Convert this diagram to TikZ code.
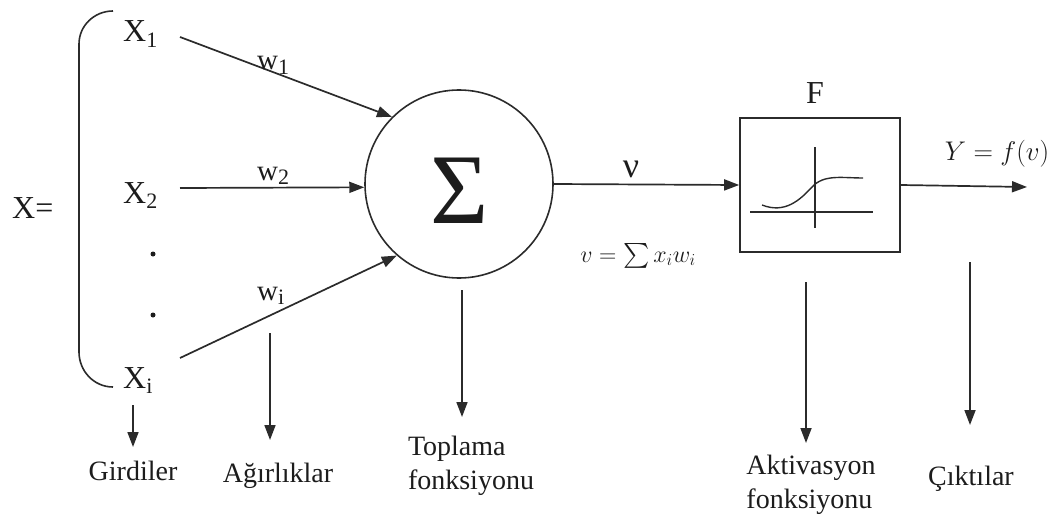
\documentclass[tikz,border=0pt]{standalone}
\usepackage{fix-cm}
\usepackage{exscale}
\usepackage{fontspec}
\setmainfont{Liberation Serif}
\usetikzlibrary{arrows.meta,positioning}
\definecolor{neuronink}{HTML}{1C1C1C}
\definecolor{neuronline}{HTML}{2B2B2B}
\tikzset{
  feed/.style={draw=neuronline,line width=1.7pt,-{Triangle[length=15pt,width=11pt]}},
  inlet/.style={font=\fontsize{32}{34}\selectfont,inner sep=0pt,anchor=base west},
  wlabel/.style={font=\fontsize{29}{30}\selectfont,inner sep=0pt,anchor=base west},
  tag/.style={font=\fontsize{28}{34}\selectfont,align=left,inner sep=0pt,anchor=north},
  mathlbl/.style={font=\fontsize{27}{30}\selectfont,inner sep=0pt,anchor=base},
  gapdot/.style={circle,fill=neuronink,inner sep=0pt,minimum size=5pt},
  curve/.style={draw=neuronline,line width=1.4pt},
}
\newcommand{\lowidx}[1]{\raisebox{-.16em}{\fontsize{22}{22}\selectfont #1}}
\newcommand{\pointer}[7]{%
  \coordinate (#1top) at (#2,#3);
  \coordinate (#1tip) at (#2,#4);
  \draw[feed] (#1top) -- (#1tip);
  \node[tag] (#1) at (#5,#6) {#7};
}

\begin{document}
\begin{tikzpicture}[x=1pt,y=-1pt,text=neuronink]
  \useasboundingbox (0,0) rectangle (1054,516);
  % input vector
  \node[inlet] (xvec) at (12,218) {X=};
  \draw[curve,line width=1.6pt] (113,11) to[out=180,in=90] (79,44) -- (79,352) to[out=-90,in=180] (113,387);
  \node[inlet] (x1) at (123,42) {X\lowidx{1}};
  \node[inlet] (x2) at (123,203) {X\lowidx{2}};
  \node[gapdot] (dot1) at (153,254) {};
  \node[gapdot] (dot2) at (153,315) {};
  \node[inlet] (xi) at (123,388) {X\lowidx{i}};

  % summing unit
  \node[circle,draw=neuronline,line width=1.6pt,minimum size=188pt,inner sep=0pt] (sum) at (459,184) {};
  \node[font=\fontsize{100}{100}\selectfont,inner sep=0pt] (sigma) at (460,191) {Σ};

  \coordinate (x1out) at (180,37);
  \coordinate (x2out) at (180,188);
  \coordinate (xiout) at (180,358);
  \draw[feed] (x1out) -- (sum.135);
  \draw[feed] (x2out) -- (sum.182);
  \draw[feed] (xiout) -- (sum.229);
  \node[wlabel] (w1) at (257,70) {w\lowidx{1}};
  \node[wlabel] (w2) at (257,180) {w\lowidx{2}};
  \node[wlabel] (wi) at (257,300) {w\lowidx{i}};

  % activation block
  \node[draw=neuronline,line width=1.6pt,minimum width=160pt,minimum height=134pt,inner sep=0pt] (fbox) at (820,185) {};
  \node[font=\fontsize{32}{34}\selectfont,inner sep=0pt,anchor=base] (ftitle) at (815,103) {F};
  \draw[feed] (sum.east) -- (fbox.west);
  \node[font=\fontsize{36}{36}\selectfont,inner sep=0pt,anchor=base] (nu) at (631,177) {ν};
  \node[mathlbl,font=\fontsize{24}{26}\selectfont] (sumeq) at (638,262) {$v=\sum x_i w_i$};
  \draw[curve] (750,212) -- (873,212);
  \draw[curve] (815,147) -- (815,228);
  \draw[curve] (762,205) .. controls (785,214) and (800,200) .. (812,187) .. controls (824,174) and (842,178) .. (863,178);

  % output
  \coordinate (yout) at (1027,187);
  \draw[feed] (fbox.east) -- (yout);
  \node[mathlbl] (yeq) at (997,160) {$Y=f(v)$};

  % captions
  \pointer{inputs}{133}{405}{447}{133}{461}{Girdiler}
  \pointer{weights}{270}{333}{440}{278}{463}{Ağırlıklar}
  \pointer{summing}{462}{290}{417}{471}{436}{Toplama\\fonksiyonu}
  \pointer{activation}{806}{282}{443}{811}{455}{Aktivasyon\\fonksiyonu}
  \pointer{outputs}{970}{262}{425}{971}{466}{Çıktılar}
\end{tikzpicture}
\end{document}
